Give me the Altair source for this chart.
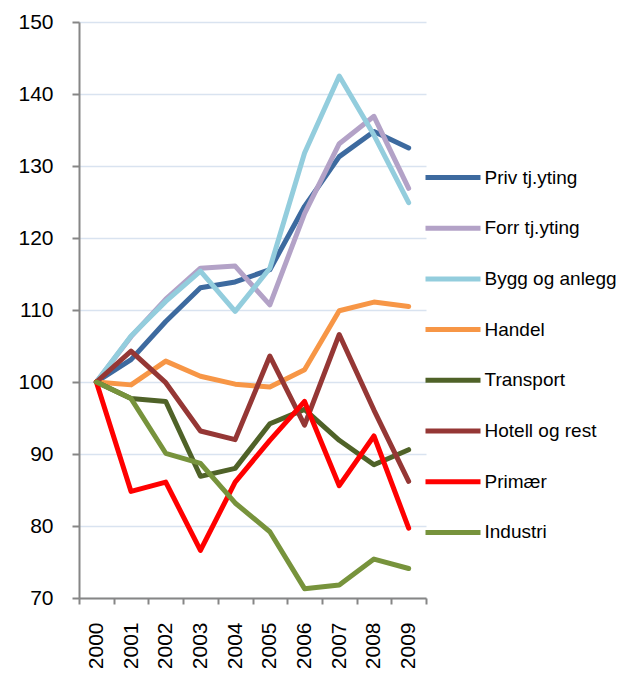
import altair as alt
import pandas as pd

years = ["2000", "2001", "2002", "2003", "2004", "2005", "2006", "2007", "2008", "2009"]
series_names = ["Priv tj.yting", "Forr tj.yting", "Bygg og anlegg", "Handel",
                "Transport", "Hotell og rest", "Primær", "Industri"]
colors = ["#3D6A9F", "#B3A2C7", "#93CDDD", "#F79646",
          "#4F6228", "#953735", "#FF0000", "#77933C"]

priv = [100, 103.1, 108.4, 113.1, 113.9, 115.6, 124.4, 131.3, 134.8, 132.5]
forr = [100, 106.3, 111.5, 115.8, 116.1, 110.7, 123.4, 133.1, 136.9, 126.9]
bygg = [100, 106.4, 111.2, 115.4, 109.8, 115.8, 131.8, 142.5, 134.3, 124.9]
handel = [100, 99.6, 102.9, 100.8, 99.7, 99.3, 101.7, 109.9, 111.1, 110.5]
transport = [100, 97.7, 97.3, 86.9, 88.0, 94.2, 96.2, 91.9, 88.5, 90.6]
hotell = [100, 104.3, 99.9, 93.2, 92.0, 103.6, 94.0, 106.6, 96.1, 86.2]
primaer = [100, 84.8, 86.1, 76.6, 86.1, 91.9, 97.3, 85.6, 92.5, 79.7]
industri = [100, 97.7, 90.1, 88.7, 83.2, 79.2, 71.3, 71.8, 75.4, 74.1]

all_values = [priv, forr, bygg, handel, transport, hotell, primaer, industri]

rows = []
for name, vals in zip(series_names, all_values):
    for yr, v in zip(years, vals):
        rows.append({"Year": yr, "Series": name, "Value": v})
df = pd.DataFrame(rows)

FONT = "Liberation Sans"

chart = alt.Chart(df).mark_line(
    strokeWidth=5, strokeJoin="round", strokeCap="round"
).encode(
    x=alt.X("Year:O", sort=years, bandPosition=0.5,
            scale=alt.Scale(type="band", paddingInner=0, paddingOuter=0),
            axis=alt.Axis(title=None, labelAngle=270, labelAlign="right",
                          labelBaseline="middle", labelFontSize=21, labelFont=FONT,
                          labelColor="#000000", labelPadding=18,
                          tickBand="extent", tickSize=6, tickWidth=2, tickColor="#868686",
                          domainColor="#868686", domainWidth=2, grid=False)),
    y=alt.Y("Value:Q",
            scale=alt.Scale(domain=[70, 150], nice=False, zero=False),
            axis=alt.Axis(title=None, values=[70, 80, 90, 100, 110, 120, 130, 140, 150],
                          labelFontSize=21, labelFont=FONT, labelColor="#000000",
                          labelPadding=19, tickSize=7, tickWidth=2, tickColor="#868686",
                          domainColor="#868686", domainWidth=2,
                          grid=True, gridColor="#D9E3F0", gridWidth=1.5)),
    color=alt.Color("Series:N", sort=series_names,
                    scale=alt.Scale(domain=series_names, range=colors),
                    legend=alt.Legend(orient="none", legendX=346.5, legendY=128,
                                      title=None, symbolType="M-1.1,0H1.1",
                                      symbolSize=2500, symbolStrokeWidth=5,
                                      labelFontSize=19, labelFont=FONT,
                                      labelColor="#000000", labelOffset=4,
                                      rowPadding=12.7, padding=0, labelLimit=220)),
).properties(
    width=347, height=576,
    autosize=alt.AutoSizeParams(type="none"),
    padding={"left": 71, "top": 14, "right": 200, "bottom": 70},
).configure_view(stroke=None)

chart.save("out.html", embed_options={"renderer": "svg", "actions": False})
